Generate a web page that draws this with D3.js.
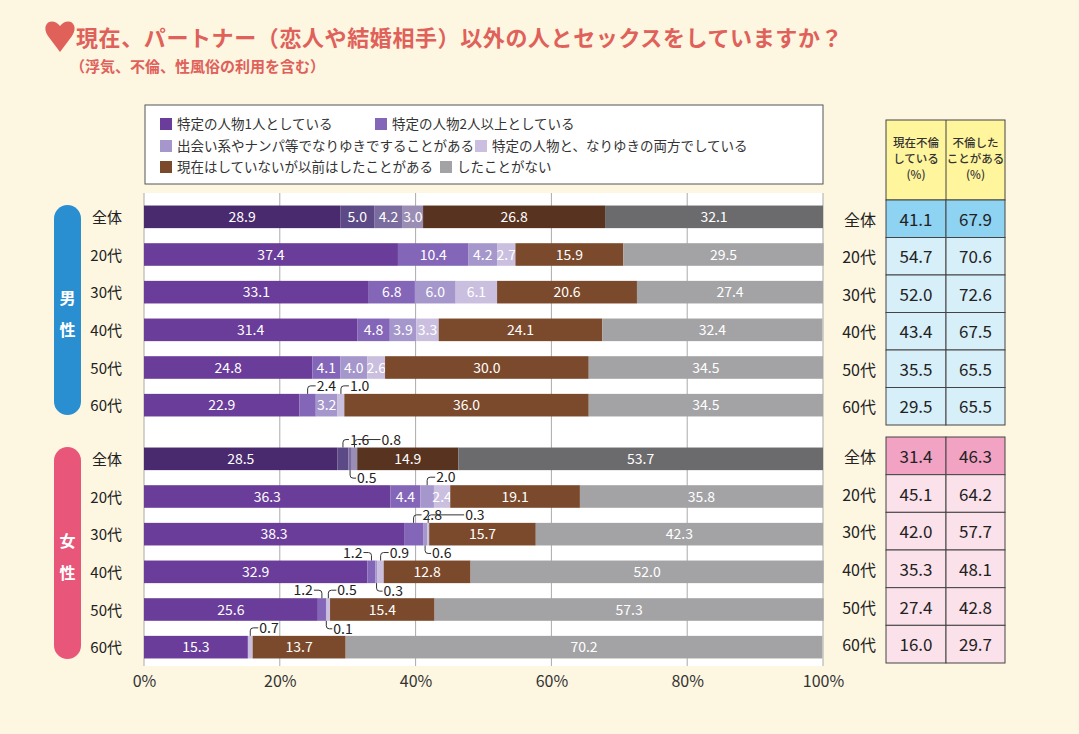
<!DOCTYPE html>
<html><head><meta charset="utf-8">
<script src="https://cdn.jsdelivr.net/npm/d3@7"></script>
<style>
body{margin:0;background:#fdf6e1;font-family:"Noto Sans CJK JP","Noto Sans",sans-serif;}
</style></head><body>
<svg id="c" width="1079" height="734"></svg>
<script>
var seriesNames = ["特定の人物1人としている","特定の人物2人以上としている","出会い系やナンパ等でなりゆきですることがある","特定の人物と、なりゆきの両方でしている","現在はしていないが以前はしたことがある","したことがない"];
var rowLabels = ["全体","20代","30代","40代","50代","60代"];
var maleValues = [
  [28.9,5.0,4.2,3.0,26.8,32.1],
  [37.4,10.4,4.2,2.7,15.9,29.5],
  [33.1,6.8,6.0,6.1,20.6,27.4],
  [31.4,4.8,3.9,3.3,24.1,32.4],
  [24.8,4.1,4.0,2.6,30.0,34.5],
  [22.9,2.4,3.2,1.0,36.0,34.5]
];
var femaleValues = [
  [28.5,1.6,0.5,0.8,14.9,53.7],
  [36.3,4.4,2.0,2.4,19.1,35.8],
  [38.3,2.8,0.6,0.3,15.7,42.3],
  [32.9,1.2,0.3,0.9,12.8,52.0],
  [25.6,1.2,0.1,0.5,15.4,57.3],
  [15.3,0,0,0.7,13.7,70.2]
];
var maleTable = [[41.1,67.9],[54.7,70.6],[52.0,72.6],[43.4,67.5],[35.5,65.5],[29.5,65.5]];
var femaleTable = [[31.4,46.3],[45.1,64.2],[42.0,57.7],[35.3,48.1],[27.4,42.8],[16.0,29.7]];
var tableHeads = [["現在不倫","している","(%)"],["不倫した","ことがある","(%)"]];
var xTicks = [0,20,40,60,80,100];
// callouts for small segments: group, row, seg, dir(up/down), side(L/R), offset px
var callouts = [
  {g:0,r:5,s:1,dir:"up",side:"R",off:8},
  {g:0,r:5,s:3,dir:"up",side:"R",off:8},
  {g:1,r:0,s:1,dir:"up",side:"R",off:6},
  {g:1,r:0,s:3,dir:"up",side:"R",off:26},
  {g:1,r:0,s:2,dir:"down",side:"R",off:6},
  {g:1,r:1,s:2,dir:"up",side:"R",off:8},
  {g:1,r:2,s:1,dir:"up",side:"R",off:8},
  {g:1,r:2,s:3,dir:"up",side:"R",off:36},
  {g:1,r:2,s:2,dir:"down",side:"R",off:6},
  {g:1,r:3,s:1,dir:"up",side:"L",off:8},
  {g:1,r:3,s:3,dir:"up",side:"R",off:8},
  {g:1,r:3,s:2,dir:"down",side:"R",off:6},
  {g:1,r:4,s:1,dir:"up",side:"L",off:8},
  {g:1,r:4,s:3,dir:"up",side:"R",off:8},
  {g:1,r:4,s:2,dir:"down",side:"R",off:6},
  {g:1,r:5,s:3,dir:"up",side:"R",off:8}
];

var colors = ["#6a3d9a","#8466b8","#a597cc","#cbbfe0","#7b4a2c","#a3a3a5"];
var darkColors = ["#4a2a6e","#5c4a86","#7a6c9e","#9a8eb4","#583420","#6b6b6d"];

var svg = d3.select("#c");
var x = d3.scaleLinear().domain([0,100]).range([144,823]);
var yM = d3.scaleBand().domain(rowLabels).range([198,424]).paddingInner(0.4).paddingOuter(0.2);
var yF = d3.scaleBand().domain(rowLabels).range([440,666]).paddingInner(0.4).paddingOuter(0.2);

// title
svg.append("path").attr("d","M60,26 C52,16 40,24 48,36 L60,52 L72,36 C80,24 68,16 60,26Z").attr("fill","#e0605a");
svg.append("text").attr("x",76).attr("y",46).attr("font-size",22).attr("font-weight","bold").attr("fill","#e0605a")
  .attr("letter-spacing",0.6).text("現在、パートナー（恋人や結婚相手）以外の人とセックスをしていますか？");
svg.append("text").attr("x",70).attr("y",72).attr("font-size",15).attr("font-weight","bold").attr("fill","#e0605a")
  .text("（浮気、不倫、性風俗の利用を含む）");

// legend
svg.append("rect").attr("x",145).attr("y",105).attr("width",678).attr("height",79).attr("fill","#fff").attr("stroke","#555");
var legPos = [[160,124],[375,124],[160,146],[475,146],[160,167],[440,167]];
seriesNames.forEach(function(n,i){
  svg.append("rect").attr("x",legPos[i][0]).attr("y",legPos[i][1]-6).attr("width",12).attr("height",12).attr("fill",colors[i]);
  svg.append("text").attr("x",legPos[i][0]+17).attr("y",legPos[i][1]+5).attr("font-size",13.5).attr("fill","#333").text(n);
});

// plot area
svg.append("rect").attr("x",144).attr("y",193).attr("width",679).attr("height",473).attr("fill","#fff");
svg.append("g").selectAll("line").data(xTicks).enter().append("line")
  .attr("x1",function(d){return x(d);}).attr("x2",function(d){return x(d);})
  .attr("y1",193).attr("y2",666).attr("stroke","#aaa").attr("stroke-width",1);
var ax = svg.append("g").attr("transform","translate(0,666)")
  .call(d3.axisBottom(x).tickValues(xTicks).tickSize(0).tickFormat(function(d){return d+"%";}));
ax.select(".domain").remove();
ax.selectAll("text").attr("font-size",16).attr("dy","1.1em").attr("fill","#333").style("font-family","'Noto Sans CJK JP',sans-serif");

function hasCallout(g,r,s){
  return callouts.some(function(c){return c.g==g && c.r==r && c.s==s;});
}
function drawGroup(vals, y, gi){
  vals.forEach(function(row, ri){
    var cum = 0;
    var yy = y(rowLabels[ri]);
    row.forEach(function(v, si){
      var x0 = x(cum), x1 = x(cum+v);
      svg.append("rect").attr("x",x0).attr("y",yy).attr("width",x1-x0).attr("height",y.bandwidth())
        .attr("fill",ri==0?darkColors[si]:colors[si]);
      if (v >= 2.4 && !hasCallout(gi,ri,si)) {
        svg.append("text").attr("x",(x0+x1)/2).attr("y",yy+y.bandwidth()/2+5).attr("text-anchor","middle")
          .attr("font-size",14).attr("fill","#fff").text(v.toFixed(1));
      }
      cum += v;
    });
    svg.append("text").attr("x",122).attr("y",yy+y.bandwidth()/2+6).attr("text-anchor","end")
      .attr("font-size",15).attr("fill","#222").text(rowLabels[ri]);
  });
}
drawGroup(maleValues, yM, 0);
drawGroup(femaleValues, yF, 1);

callouts.forEach(function(c){
  var vals = c.g==0?maleValues:femaleValues, y = c.g==0?yM:yF;
  var row = vals[c.r];
  var cum = d3.sum(row.slice(0,c.s));
  var cx = x(cum + row[c.s]/2);
  var yy = y(rowLabels[c.r]);
  var edge = c.dir=="up"?yy:yy+y.bandwidth();
  var ly = c.dir=="up"?yy-8:yy+y.bandwidth()+8;
  var sg = c.side=="R"?1:-1;
  var ex = cx + sg*(c.off);
  svg.append("path").attr("d","M"+cx+","+edge+" L"+cx+","+(ly+(c.dir=="up"?3:-3))+" Q"+cx+","+ly+" "+(cx+sg*3)+","+ly+" L"+ex+","+ly)
    .attr("fill","none").attr("stroke","#333").attr("stroke-width",1);
  svg.append("text").attr("x",ex+sg*1).attr("y",ly+5).attr("text-anchor",c.side=="R"?"start":"end")
    .attr("font-size",14).attr("fill","#222").text(row[c.s].toFixed(1));
});

// side pills
function pill(y0,y1,col,txt){
  svg.append("rect").attr("x",54).attr("y",y0).attr("width",27).attr("height",y1-y0).attr("rx",13.5).attr("fill",col);
  txt.split("").forEach(function(ch,i){
    svg.append("text").attr("x",67.5).attr("y",(y0+y1)/2-6+i*32).attr("text-anchor","middle")
      .attr("font-size",16).attr("font-weight","bold").attr("fill","#fff").text(ch);
  });
}
pill(205,415,"#2a8fd0","男性");
pill(447,659,"#e8577a","女性");

// right table
var tx = [886,946,1005];
svg.append("rect").attr("x",886).attr("y",120).attr("width",119).attr("height",80).attr("fill","#fff59d").attr("stroke","#444");
svg.append("line").attr("x1",946).attr("x2",946).attr("y1",120).attr("y2",200).attr("stroke","#444");
tableHeads.forEach(function(h,i){
  h.forEach(function(t,j){
    svg.append("text").attr("x",(tx[i]+tx[i+1])/2).attr("y",147+j*16).attr("text-anchor","middle")
      .attr("font-size",11.5).attr("font-weight",500).attr("fill","#333").text(t);
  });
});
function table(vals, y, top, bot, c0, c1){
  var rh = (bot-top)/6;
  vals.forEach(function(r,ri){
    r.forEach(function(v,ci){
      svg.append("rect").attr("x",tx[ci]).attr("y",top+ri*rh).attr("width",tx[ci+1]-tx[ci]).attr("height",rh)
        .attr("fill",ri==0?c0:c1).attr("stroke","#444");
      svg.append("text").attr("x",(tx[ci]+tx[ci+1])/2).attr("y",top+ri*rh+rh/2+7).attr("text-anchor","middle")
        .attr("font-size",17).attr("fill","#222").text(v.toFixed(1));
    });
    svg.append("text").attr("x",876).attr("y",top+ri*rh+rh/2+7).attr("text-anchor","end")
      .attr("font-size",16).attr("fill","#222").text(rowLabels[ri]);
  });
}
table(maleTable, yM, 200, 425, "#8fd3f3", "#d7eff9");
table(femaleTable, yF, 437, 663, "#f2a2c2", "#fbe1ea");
</script></body></html>
